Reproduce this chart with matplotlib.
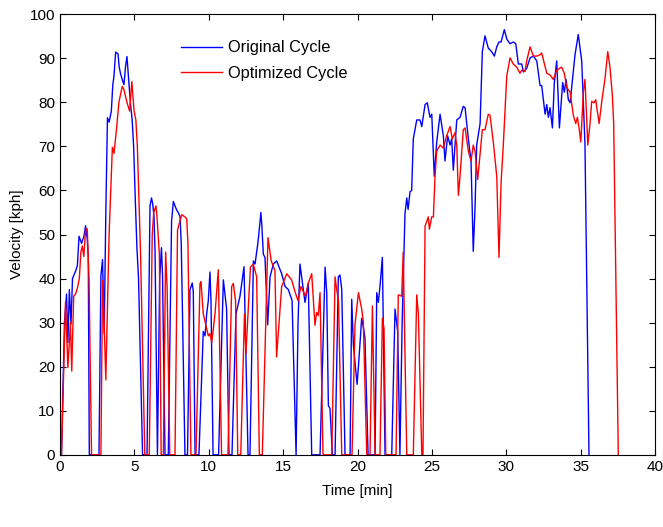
import matplotlib
matplotlib.use("Agg")
import matplotlib.pyplot as plt

plt.rcParams['font.family'] = ['Liberation Sans', 'DejaVu Sans']

# Original cycle: (time [min], velocity [kph])
orig = [
    (0.1, 0), (0.3, 30), (0.44, 36.5), (0.53, 25.5), (0.63, 37.5), (0.74, 29.7), (0.84, 40),
    (1.06, 41.8), (1.17, 43), (1.28, 49.6), (1.45, 48), (1.61, 49.6), (1.72, 52), (1.83, 49),
    (1.9, 45), (1.97, 0),
    (2.62, 0), (2.75, 40.7), (2.86, 44.3), (2.97, 27.6), (3.08, 55), (3.19, 76.5), (3.3, 75.5),
    (3.45, 78), (3.55, 84), (3.63, 86), (3.74, 91.4), (3.9, 91), (3.98, 88), (4.07, 86.5),
    (4.2, 85), (4.3, 84), (4.4, 88), (4.5, 90.4), (4.62, 85), (4.73, 80), (4.85, 76), (4.95, 70),
    (5.06, 58), (5.17, 47), (5.28, 40), (5.55, 0),
    (5.85, 0), (6.05, 56.5), (6.15, 58.3), (6.23, 57), (6.32, 54), (6.39, 46), (6.55, 0),
    (6.7, 40), (6.82, 47), (6.89, 41), (7.06, 0),
    (7.28, 0), (7.5, 53), (7.62, 57.5), (7.73, 56.5), (7.85, 55.5), (7.95, 55), (8.07, 54),
    (8.15, 48), (8.4, 0),
    (8.57, 0), (8.74, 37.5), (8.89, 39), (8.96, 37.1), (9.08, 0),
    (9.34, 0), (9.63, 28), (9.75, 27), (9.86, 32), (9.97, 35), (10.08, 41.5), (10.15, 35),
    (10.29, 0),
    (10.66, 0), (10.98, 39.7), (11.2, 33.1), (11.36, 0),
    (11.56, 0), (11.83, 32), (12.1, 36), (12.37, 42.7), (12.64, 0),
    (12.77, 0), (13.0, 44), (13.11, 43.3), (13.3, 48), (13.45, 53), (13.5, 55), (13.56, 52.5),
    (13.67, 45.5), (13.78, 44.8), (13.96, 29.5), (14.12, 40.4), (14.34, 43.3), (14.57, 44),
    (14.68, 43), (14.9, 41.1), (15.13, 38.2), (15.35, 37.5), (15.6, 35), (15.87, 0),
    (16.0, 30), (16.13, 43.3), (16.36, 37.5), (16.47, 34.6), (16.69, 39), (16.92, 0),
    (17.48, 0), (17.82, 42.6), (17.93, 36.8), (18.04, 11.2), (18.15, 10.5), (18.31, 0),
    (18.49, 0), (18.71, 40.4), (18.82, 40.8), (18.94, 37.5), (19.16, 0),
    (19.5, 0), (19.61, 35.3), (19.72, 25), (19.97, 16), (20.06, 20), (20.28, 31), (20.39, 29),
    (20.5, 26.6), (20.71, 0),
    (21.18, 0), (21.29, 36.8), (21.4, 34.6), (21.51, 38.2), (21.67, 44.8), (21.85, 0),
    (22.3, 0), (22.52, 33.1), (22.7, 28), (22.85, 0),
    (23.0, 30), (23.19, 54.7), (23.31, 58.3), (23.4, 55.7), (23.53, 59.7), (23.64, 60),
    (23.75, 71.7), (23.98, 76), (24.2, 76), (24.32, 74.5), (24.54, 79.5), (24.69, 79.9),
    (24.87, 76.6), (24.99, 77.3), (25.16, 63.2), (25.32, 70.9), (25.55, 77.3), (25.77, 72.4),
    (25.88, 66.7), (26.06, 72.4), (26.22, 70.3), (26.33, 71.7), (26.44, 64.6), (26.67, 76),
    (26.89, 76.6), (27.11, 79.1), (27.23, 78.8), (27.45, 71.7), (27.63, 66.7), (27.78, 46.2),
    (27.9, 56.1), (28.01, 70.3), (28.24, 75.2), (28.39, 91.5), (28.57, 95.1), (28.79, 92.3),
    (29.02, 91.5), (29.2, 90.5), (29.36, 92.6), (29.51, 93.7), (29.65, 93.7), (29.87, 96.5),
    (30.03, 94.4), (30.25, 93.3), (30.47, 93.7), (30.64, 93.3), (30.81, 88.7), (31.04, 88.7),
    (31.15, 86.9), (31.37, 87.7), (31.6, 90.1), (31.82, 90.5), (32.05, 89.4), (32.27, 83.8),
    (32.38, 83.8), (32.61, 77.3), (32.72, 79.5), (32.83, 76.6), (32.94, 78.8), (33.1, 74.2),
    (33.23, 84.5), (33.39, 89.4), (33.57, 74.2), (33.79, 84.5), (33.9, 82.3), (34.02, 85.2),
    (34.17, 80.6), (34.29, 79.9), (34.51, 87.3), (34.62, 90.8), (34.84, 95.4), (35.07, 89.4),
    (35.18, 80.2), (35.29, 70.3), (35.56, 0),
]

# Optimized cycle
opt = [
    (0.1, 0), (0.37, 34.7), (0.53, 19.8), (0.7, 30), (0.79, 19), (0.92, 36), (1.05, 36.5),
    (1.18, 38), (1.3, 40), (1.4, 46), (1.5, 47.4), (1.6, 45), (1.72, 51), (1.83, 51.3),
    (1.95, 40), (2.12, 0),
    (2.75, 0), (2.86, 39.6), (2.95, 32), (3.08, 17), (3.3, 50), (3.52, 69.8), (3.63, 68.4),
    (3.8, 74), (3.96, 80), (4.18, 83.6), (4.29, 83), (4.5, 80), (4.68, 78), (4.83, 84.7),
    (4.98, 78), (5.1, 76), (5.2, 70), (5.42, 45), (5.7, 0),
    (6.0, 0), (6.2, 50), (6.3, 55), (6.45, 56.5), (6.52, 54), (6.68, 45.5), (6.8, 0),
    (6.95, 0), (7.1, 46), (7.2, 38), (7.38, 0),
    (7.73, 0), (7.9, 51), (8.18, 54.5), (8.4, 54), (8.52, 53.5), (8.6, 48), (8.8, 0),
    (9.14, 0), (9.41, 38.9), (9.48, 39.3), (9.63, 32), (9.97, 27), (10.08, 27.5),
    (10.2, 25.5), (10.42, 32), (10.64, 42), (10.86, 0),
    (11.29, 0), (11.54, 38.2), (11.65, 38.9), (11.8, 35), (11.95, 0),
    (12.15, 0), (12.4, 32), (12.5, 23), (12.8, 42.6), (12.99, 43.3), (13.22, 40.4), (13.4, 0),
    (13.6, 0), (13.98, 49.3), (14.2, 44), (14.45, 41.8), (14.56, 22.2), (14.9, 38.2),
    (15.24, 41.1), (15.57, 39.7), (15.8, 37), (16.0, 35), (16.2, 38.2), (16.5, 36), (16.7, 39),
    (16.92, 41.1), (17.14, 29.4), (17.25, 32.3), (17.36, 31.6), (17.48, 36.8), (17.68, 0),
    (18.27, 0), (18.49, 40.4), (18.6, 37.5), (18.72, 35), (18.94, 0),
    (19.63, 0), (19.83, 29.5), (20.06, 36.8), (20.28, 33.1), (20.39, 30.2), (20.62, 0),
    (20.84, 0), (21.0, 33.8), (21.18, 0),
    (21.51, 0), (21.67, 31), (21.78, 28.7), (21.9, 0),
    (22.59, 0), (22.74, 36.3), (22.97, 36), (23.07, 46), (23.31, 0),
    (23.75, 0), (23.98, 36.3), (24.09, 32), (24.32, 0),
    (24.4, 0), (24.54, 51.9), (24.76, 54), (24.83, 51.2), (24.99, 54), (25.1, 54), (25.21, 63.2),
    (25.32, 68.9), (25.55, 70.3), (25.77, 69.6), (25.99, 72.4), (26.22, 74.5), (26.37, 71.7),
    (26.55, 73.1), (26.67, 70.3), (26.78, 58.9), (26.89, 63.2), (27.11, 73.8), (27.23, 74.2),
    (27.45, 68.9), (27.63, 66.7), (27.78, 70.3), (27.9, 68.9), (28.08, 62.5), (28.24, 68.2),
    (28.39, 73.8), (28.57, 73.8), (28.79, 77.3), (28.91, 77), (29.13, 70.9), (29.36, 63.2),
    (29.51, 44.8), (29.65, 61.8), (29.8, 70.3), (30.03, 85.9), (30.25, 90.1), (30.47, 88.7),
    (30.7, 88), (30.92, 86.6), (31.04, 87.3), (31.26, 87), (31.37, 89.4), (31.6, 92.6),
    (31.82, 90.5), (32.05, 90.5), (32.27, 90.8), (32.38, 91.2), (32.72, 86.6), (32.94, 86.2),
    (33.16, 85.2), (33.39, 87.3), (33.72, 88), (33.9, 86.6), (34.06, 83.4), (34.29, 82.3),
    (34.51, 77), (34.67, 75.2), (34.78, 76.6), (34.89, 74.2), (35.01, 71), (35.18, 82.3),
    (35.29, 85.2), (35.48, 70.3), (35.63, 75.2), (35.74, 80.2), (35.9, 79.9), (36.01, 80.6),
    (36.24, 75.2), (36.42, 80.2), (36.64, 85.5), (36.82, 91.5), (36.97, 88), (37.13, 81.6),
    (37.22, 75.2), (37.53, 0),
]

orig_t = [p[0] for p in orig]
orig_v = [p[1] for p in orig]
opt_t = [p[0] for p in opt]
opt_v = [p[1] for p in opt]

fig = plt.figure(figsize=(6.63, 5.27), dpi=100)
ax = fig.add_axes([0.0905, 0.137, 0.8975, 0.836])

ax.plot(orig_t, orig_v, color='#0000ff', lw=1.0, label='Original Cycle')
ax.plot(opt_t, opt_v, color='#ff0000', lw=1.0, label='Optimized Cycle')

ax.set_xlim(0, 40)
ax.set_ylim(0, 100)
ax.set_xticks(range(0, 41, 5))
ax.set_yticks(range(0, 101, 10))
ax.tick_params(direction='in', top=True, right=True, labelsize=11, length=4, width=0.8)
for s in ax.spines.values():
    s.set_linewidth(0.8)
ax.set_xlabel('Time [min]', fontsize=11, labelpad=7.5)
ax.set_ylabel('Velocity [kph]', fontsize=11, labelpad=4)

ax.legend(loc='upper left', bbox_to_anchor=(0.178, 0.974), frameon=False, fontsize=11.8,
          handlelength=2.5, handletextpad=0.4, labelspacing=0.65)

fig.savefig('out.png', dpi=100)
